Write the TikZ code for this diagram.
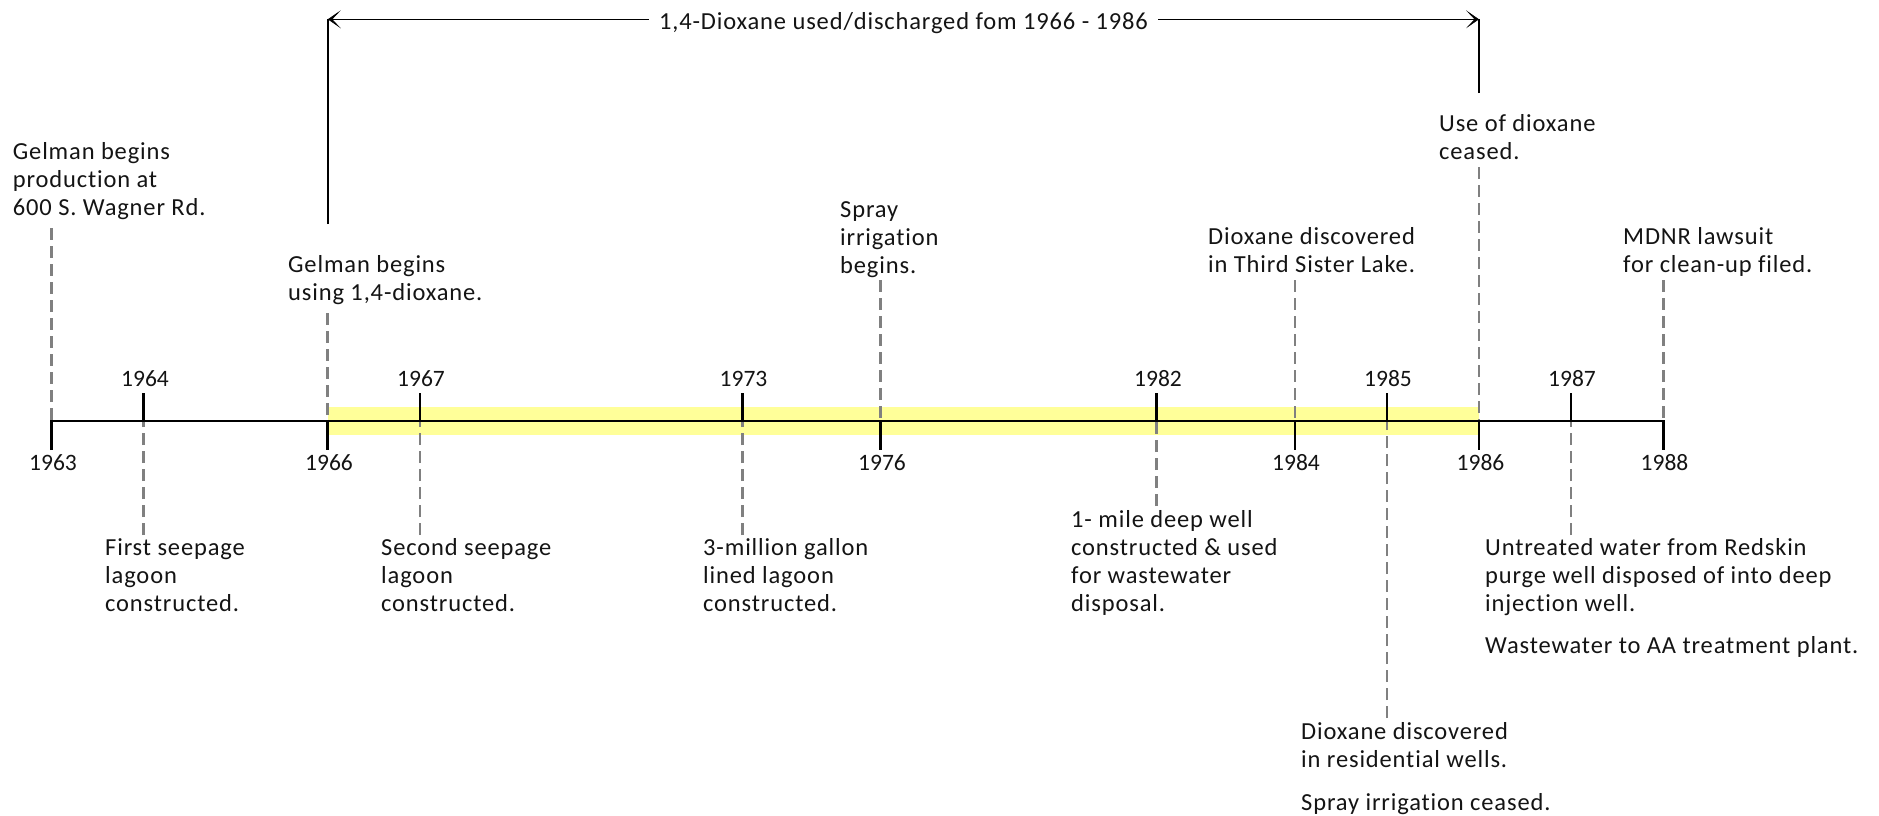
\documentclass[tikz,border=0pt]{standalone}
\usepackage{fontspec}
\setmainfont{Carlito}[Ligatures={NoCommon,NoRare,NoContextual}]
\newfontfamily\evfont{Carlito}[LetterSpace=3.5,Ligatures={NoCommon,NoRare,NoContextual}]
\usetikzlibrary{arrows.meta}
\definecolor{band}{RGB}{255,255,153}
\definecolor{dashgray}{RGB}{128,128,128}
\definecolor{inktext}{RGB}{20,20,20}
\newcommand\evlines[1]{\vtop{\baselineskip=28.3pt\lineskiplimit=-100pt\halign{##\hfil\cr#1\crcr}}}
\begin{document}
\begin{tikzpicture}[x=1pt,y=-1pt,
  evtext/.style={anchor=base west, inner sep=0pt, text=inktext, font=\evfont\fontsize{24.5}{28.3}\selectfont},
  yearlbl/.style={anchor=base, inner sep=0pt, text=inktext, font=\fontsize{23.5}{28.3}\selectfont},
  axisline/.style={line width=2.8pt, black, line join=miter},
  tickline/.style={line width=2.8pt, black},
  evline/.style={line width=2.7pt, dashgray, dash pattern=on 12pt off 6pt},
  spanline/.style={line width=1.4pt, black},
  spanarrow/.style={spanline, -{Stealth[length=13pt,width=18pt,inset=8.5pt,line width=0.6pt]}},
  titletext/.style={inner ysep=0pt, inner xsep=10pt, anchor=base, text=inktext, font=\evfont\fontsize{24.5}{28.3}\selectfont}
]
\useasboundingbox (0,0) rectangle (1879,815);
\fill[white] (0,0) rectangle (1879,815);

% axis tick points
\coordinate (t1963) at (51.5,421);
\coordinate (t1964) at (143.6,421);
\coordinate (t1966) at (327.8,421);
\coordinate (t1967) at (419.9,421);
\coordinate (t1973) at (742.3,421);
\coordinate (t1976) at (880.4,421);
\coordinate (t1982) at (1156.7,421);
\coordinate (t1984) at (1294.9,421);
\coordinate (t1985) at (1387,421);
\coordinate (t1986) at (1479,421);
\coordinate (t1987) at (1571,421);
\coordinate (t1988) at (1663.3,421);

% highlighted period
\fill[band] (327.8,407) rectangle (1479,435);

% event texts
\node[evtext] (evA) at (12.7,159) {\evlines{Gelman begins\cr production at\cr 600 S. Wagner Rd.}};
\node[evtext] (evB) at (288,272) {\evlines{Gelman begins\cr using 1,4-dioxane.}};
\node[evtext] (evC) at (840,217) {\evlines{Spray\cr irrigation\cr begins.}};
\node[evtext] (evD) at (1208,244) {\evlines{Dioxane discovered\cr in Third Sister Lake.}};
\node[evtext] (evE) at (1439,131) {\evlines{Use of dioxane\cr ceased.}};
\node[evtext] (evF) at (1623,244) {\evlines{MDNR lawsuit\cr for clean-up filed.}};
\node[evtext] (evG) at (105,555) {\evlines{First seepage\cr lagoon\cr constructed.}};
\node[evtext] (evH) at (381,555) {\evlines{Second seepage\cr lagoon\cr constructed.}};
\node[evtext] (evI) at (703,555) {\evlines{3-million gallon\cr lined lagoon\cr constructed.}};
\node[evtext] (evJ) at (1071,527) {\evlines{1- mile deep well\cr constructed \& used\cr for wastewater\cr disposal.}};
\node[evtext] (evK) at (1301,739) {\evlines{Dioxane discovered\cr in residential wells.\cr\noalign{\vskip14.5pt} Spray irrigation ceased.}};
\node[evtext] (evL) at (1485,555) {\evlines{Untreated water from Redskin\cr purge well disposed of into deep\cr injection well.\cr\noalign{\vskip13.7pt} Wastewater to AA treatment plant.}};

% dashed line ends near the texts
\coordinate (dA) at (51.5,228);
\coordinate (dB) at (327.8,313);
\coordinate (dC) at (880.4,280);
\coordinate (dD) at (1294.9,280);
\coordinate (dE) at (1479,167);
\coordinate (dF) at (1663.3,280);
\coordinate (dG) at (143.6,535);
\coordinate (dH) at (419.9,535);
\coordinate (dI) at (742.3,535);
\coordinate (dJ) at (1156.7,506);
\coordinate (dK) at (1387,718);
\coordinate (dL) at (1571,535);

\foreach \d/\t in {dA/t1963,dB/t1966,dC/t1976,dD/t1984,dE/t1986,dF/t1988,dG/t1964,dH/t1967,dI/t1973,dJ/t1982,dK/t1985,dL/t1987}
  \draw[evline] (\d) -- (\t);

% axis with end ticks
\draw[axisline] (51.5,450) -- (t1963) -- (t1988) -- (1663.3,450);
% upper ticks
\foreach \t in {t1964,t1967,t1973,t1982,t1985,t1987}
  \draw[tickline] (\t) -- ++(0,-28);
% lower ticks
\foreach \t in {t1966,t1976,t1984,t1986}
  \draw[tickline] (\t) -- ++(0,29);

% year labels
\node[yearlbl] (y1964) at (145,386) {1964};
\node[yearlbl] (y1967) at (421,386) {1967};
\node[yearlbl] (y1973) at (743.5,386) {1973};
\node[yearlbl] (y1982) at (1158,386) {1982};
\node[yearlbl] (y1985) at (1388,386) {1985};
\node[yearlbl] (y1987) at (1572,386) {1987};
\node[yearlbl] (y1963) at (53,470) {1963};
\node[yearlbl] (y1966) at (329,470) {1966};
\node[yearlbl] (y1976) at (882,470) {1976};
\node[yearlbl] (y1984) at (1296,470) {1984};
\node[yearlbl] (y1986) at (1480.5,470) {1986};
\node[yearlbl] (y1988) at (1664.5,470) {1988};

% span of dioxane use
\node[titletext] (span) at (903.5,29) {1,4-Dioxane used/discharged fom 1966 - 1986};
\coordinate (Ltop) at (327.8,19.3);
\coordinate (Lbot) at (327.8,224);
\coordinate (Rtop) at (1479,19.3);
\coordinate (Rbot) at (1479,93);
\draw[spanline] (Lbot) -- (Ltop);
\draw[spanline] (Rbot) -- (Rtop);
\draw[spanarrow] (span.west |- Ltop) -- (Ltop);
\draw[spanarrow] (span.east |- Rtop) -- (Rtop);
\end{tikzpicture}
\end{document}
